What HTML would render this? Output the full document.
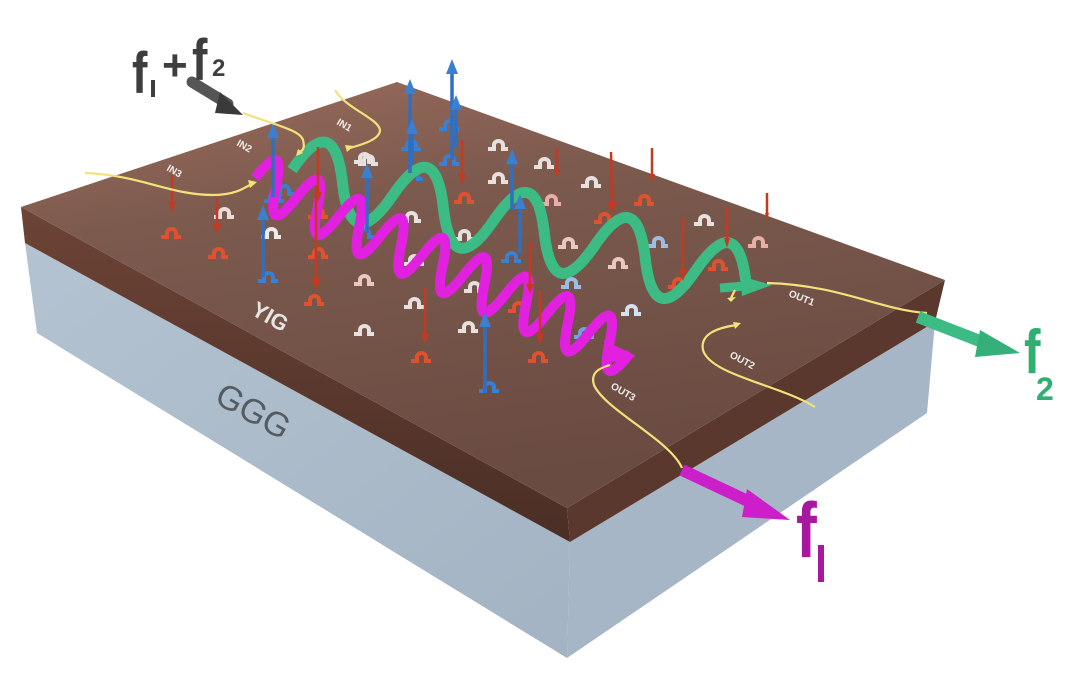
<!DOCTYPE html>
<html><head><meta charset="utf-8"><style>
html,body{margin:0;padding:0;background:#fff;width:1080px;height:685px;overflow:hidden}
svg{display:block}
text{font-family:"Liberation Sans","DejaVu Sans",sans-serif}
</style></head><body>
<svg width="1080" height="685" viewBox="0 0 1080 685" xmlns="http://www.w3.org/2000/svg">
<defs>
<linearGradient id="top" x1="0" y1="0" x2="0.3" y2="1">
<stop offset="0" stop-color="#9a6c5c"/><stop offset="0.35" stop-color="#7c5a4e"/><stop offset="1" stop-color="#6a4b41"/>
</linearGradient>
<linearGradient id="front" x1="0" y1="0" x2="0" y2="1">
<stop offset="0" stop-color="#6d4436"/><stop offset="1" stop-color="#4a2e25"/>
</linearGradient>
<linearGradient id="ggg" x1="0" y1="0" x2="1" y2="1">
<stop offset="0" stop-color="#b3c3d1"/><stop offset="1" stop-color="#a3b3c3"/>
</linearGradient>
<g id="sp"><path d="M-9,4 h6 v-4 a4.5,4 0 1 1 9,0 v4 h5" fill="none" stroke-width="4" stroke-linejoin="miter"/></g>
</defs>

<polygon points="25,243 37,333 567,658 570,542" fill="url(#ggg)"/>
<polygon points="570,542 567,658 927,413 935,322" fill="#a7b6c6"/>
<polygon points="21,207 567,508 570,542 25,243" fill="url(#front)"/>
<polygon points="567,508 945,280 935,322 570,542" fill="#5a382d"/>
<polygon points="21,207 397,82 945,280 567,508" fill="url(#top)"/>

<text x="0" y="0" font-size="34" fill="#555b62" transform="translate(213,402) rotate(29)">GGG</text>
<text x="0" y="0" font-size="22" fill="#e8e4e2" font-weight="bold" transform="translate(250,314) rotate(29)">YIG</text>
<g font-size="10" fill="#f2ecea" font-weight="bold">
<text transform="translate(336,124) rotate(30)">IN1</text>
<text transform="translate(236,145) rotate(30)">IN2</text>
<text transform="translate(166,170) rotate(30)">IN3</text>
<text transform="translate(788,296) rotate(22)">OUT1</text>
<text transform="translate(729,357) rotate(28)">OUT2</text>
<text transform="translate(610,388) rotate(30)">OUT3</text>
</g>

<g>
<use href="#sp" x="363" y="158" stroke="#e6e0de"/>
<use href="#sp" x="412" y="175" stroke="#3b7fd0"/>
<use href="#sp" x="410" y="145" stroke="#3b7fd0"/>
<use href="#sp" x="448" y="125" stroke="#3b7fd0"/>
<use href="#sp" x="448" y="160" stroke="#3b7fd0"/>
<use href="#sp" x="497" y="145" stroke="#e6e0de"/>
<use href="#sp" x="543" y="163" stroke="#e6e0de"/>
<use href="#sp" x="497" y="178" stroke="#e6e0de"/>
<use href="#sp" x="463" y="198" stroke="#e0512f"/>
<use href="#sp" x="550" y="200" stroke="#e8b0a4"/>
<use href="#sp" x="590" y="182" stroke="#e6e0de"/>
<use href="#sp" x="603" y="218" stroke="#e0512f"/>
<use href="#sp" x="643" y="200" stroke="#e0512f"/>
<use href="#sp" x="703" y="220" stroke="#e6e0de"/>
<use href="#sp" x="757" y="242" stroke="#e8b0a4"/>
<use href="#sp" x="717" y="265" stroke="#e0512f"/>
<use href="#sp" x="677" y="283" stroke="#e0512f"/>
<use href="#sp" x="657" y="242" stroke="#9fbde4"/>
<use href="#sp" x="617" y="263" stroke="#e8c8c0"/>
<use href="#sp" x="567" y="243" stroke="#e8c8c0"/>
<use href="#sp" x="570" y="283" stroke="#9fbde4"/>
<use href="#sp" x="630" y="310" stroke="#d6e0ee"/>
<use href="#sp" x="510" y="257" stroke="#3b7fd0"/>
<use href="#sp" x="463" y="235" stroke="#e6e0de"/>
<use href="#sp" x="410" y="217" stroke="#e6e0de"/>
<use href="#sp" x="363" y="233" stroke="#3b7fd0"/>
<use href="#sp" x="413" y="260" stroke="#e6e0de"/>
<use href="#sp" x="363" y="280" stroke="#e8c8c0"/>
<use href="#sp" x="413" y="303" stroke="#e6e0de"/>
<use href="#sp" x="363" y="330" stroke="#e6e0de"/>
<use href="#sp" x="420" y="357" stroke="#e0512f"/>
<use href="#sp" x="467" y="327" stroke="#e6e0de"/>
<use href="#sp" x="473" y="287" stroke="#e6e0de"/>
<use href="#sp" x="517" y="307" stroke="#e0512f"/>
<use href="#sp" x="583" y="333" stroke="#6fa3e0"/>
<use href="#sp" x="537" y="357" stroke="#e0512f"/>
<use href="#sp" x="488" y="387" stroke="#3b7fd0"/>
<use href="#sp" x="170" y="233" stroke="#e0512f"/>
<use href="#sp" x="217" y="253" stroke="#e0512f"/>
<use href="#sp" x="223" y="213" stroke="#ecdcd8"/>
<use href="#sp" x="270" y="233" stroke="#ecebea"/>
<use href="#sp" x="267" y="277" stroke="#3b7fd0"/>
<use href="#sp" x="313" y="300" stroke="#e0512f"/>
<use href="#sp" x="317" y="253" stroke="#e0512f"/>
<use href="#sp" x="317" y="213" stroke="#e0512f"/>
<use href="#sp" x="367" y="160" stroke="#e6e0de"/>
<use href="#sp" x="273" y="197" stroke="#3b7fd0"/>
<use href="#sp" x="283" y="190" stroke="#3b7fd0"/>
</g>

<g transform="translate(292,170) rotate(14)">
<path d="M0,0 q26,-70 52,0 t52,0 t52,0 t52,0 t52,0 t52,0 t52,0 t52,0 t52,0" fill="none" stroke="#3dbb85" stroke-width="11"/>
</g>
<polygon points="740,276 772,285 742,296" fill="#3dbb85"/>
<path d="M745,286 L720,288" stroke="#3dbb85" stroke-width="9"/>
<g transform="translate(255,178) rotate(25)">
<path d="M0,0 q11.5,-50 23,0 t23,0 t23,0 t23,0 t23,0 t23,0 t23,0 t23,0 t23,0 t23,0 t23,0 t23,0 t23,0 t23,0 t23,0 t23,0 t23,0 t23,0" fill="none" stroke="#e221e0" stroke-width="10"/>
</g>
<polygon points="604,340 636,356 605,364" fill="#e221e0"/>

<g stroke="#2f6fc0" stroke-width="3.5" fill="#3b7fd0">
<line x1="263" y1="277" x2="263" y2="218"/><polygon points="257,220 263,205 269,220" stroke="none"/>
<line x1="273" y1="197" x2="273" y2="136"/><polygon points="267,138 273,123 279,138" stroke="none"/>
<line x1="367" y1="233" x2="367" y2="176"/><polygon points="361,178 367,163 373,178" stroke="none"/>
<line x1="410" y1="173" x2="410" y2="92"/><polygon points="404,94 410,79 416,94" stroke="none"/>
<line x1="452" y1="160" x2="452" y2="72"/><polygon points="446,74 452,59 458,74" stroke="none"/>
<line x1="456" y1="147" x2="456" y2="108"/><polygon points="450,110 456,95 462,110" stroke="none"/>
<line x1="512" y1="210" x2="512" y2="162"/><polygon points="506,164 512,149 518,164" stroke="none"/>
<line x1="520" y1="253" x2="520" y2="207"/><polygon points="514,209 520,194 526,209" stroke="none"/>
<line x1="485" y1="393" x2="485" y2="325"/><polygon points="479,327 485,312 491,327" stroke="none"/>
<line x1="412" y1="165" x2="412" y2="132"/><polygon points="406,134 412,119 418,134" stroke="none"/>
</g>
<g stroke="#c23a22" stroke-width="2.5" fill="#c23a22">
<line x1="172" y1="175" x2="172" y2="204"/><polygon points="168,202 172,212 176,202" stroke="none"/>
<line x1="217" y1="198" x2="217" y2="226"/><polygon points="213,224 217,234 221,224" stroke="none"/>
<line x1="318" y1="147" x2="318" y2="194"/><polygon points="314,192 318,202 322,192" stroke="none"/>
<line x1="316" y1="185" x2="316" y2="280"/><polygon points="311,278 316,290 321,278" stroke="none"/>
<line x1="462" y1="140" x2="462" y2="176"/><polygon points="458,174 462,184 466,174" stroke="none"/>
<line x1="557" y1="148" x2="557" y2="171"/><polygon points="554,169 557,178 560,169" stroke="none"/>
<line x1="611" y1="152" x2="612" y2="204"/><polygon points="607,202 612,214 617,202" stroke="none"/>
<line x1="652" y1="148" x2="652" y2="176"/><polygon points="649,174 652,183 655,174" stroke="none"/>
<line x1="683" y1="217" x2="683" y2="272"/><polygon points="679,270 683,281 687,270" stroke="none"/>
<line x1="727" y1="207" x2="727" y2="240"/><polygon points="724,238 727,248 730,238" stroke="none"/>
<line x1="767" y1="193" x2="767" y2="215"/><polygon points="765,213 767,221 769,213" stroke="none"/>
<line x1="530" y1="242" x2="530" y2="286"/><polygon points="526,284 530,294 534,284" stroke="none"/>
<line x1="425" y1="287" x2="425" y2="336"/><polygon points="421,334 425,344 429,334" stroke="none"/>
<line x1="540" y1="290" x2="540" y2="336"/><polygon points="536,334 540,344 544,334" stroke="none"/>
</g>

<g fill="none" stroke="#f3e27a" stroke-width="2.2">
<path d="M85,173 C140,175 170,195 213,195 C235,195 245,188 253,183"/>
<path d="M243,113 C275,125 300,130 303,140 C305,148 303,150 300,152"/>
<path d="M335,90 C345,108 378,118 380,130 C380,140 360,145 350,148"/>
<path d="M767,283 C840,285 880,310 927,313"/>
<path d="M735,290 L731,298"/>
<path d="M737,325 C715,328 700,335 703,350 C710,375 780,385 815,407"/>
<path d="M610,365 C600,368 590,372 594,385 C605,410 670,440 682,468"/>
</g>
<g fill="#f3e27a">
<polygon points="248,180 257,182 250,188"/><polygon points="298,149 303,153 296,156"/>
<polygon points="345,145 354,146 347,152"/><polygon points="727,298 736,297 731,302"/>
<polygon points="733,322 741,323 735,329"/>
</g>

<path d="M192,82 L228,104" stroke="#555" stroke-width="11" stroke-linecap="round"/>
<polygon points="220,92 243,115 215,113" fill="#3a3a3a"/>
<path d="M918,317 L985,343" stroke="#3dbb85" stroke-width="12"/>
<polygon points="980,330 1020,353 975,357" fill="#35b07a"/>
<path d="M682,470 L752,503" stroke="#cc1fc9" stroke-width="12"/>
<polygon points="747,489 790,520 742,517" fill="#cc1fc9"/>

<g fill="#3e3e3e" font-weight="bold">
<text x="0" y="0" font-size="58" transform="translate(132,93) scale(0.8,1)">f</text>
<rect x="151" y="80" width="4" height="17"/>
<text x="162" y="80" font-size="44">+</text>
<text x="0" y="0" font-size="58" transform="translate(192,80) scale(0.8,1)">f</text>
<text x="212" y="76" font-size="24">2</text>
</g>
<g fill="#2eb070" font-weight="bold">
<text x="0" y="0" font-size="62" transform="translate(1024,373) scale(0.8,1)">f</text>
<text x="1036" y="400" font-size="32">2</text>
</g>
<g fill="#a8189e" font-weight="bold">
<text x="0" y="0" font-size="78" transform="translate(796,557) scale(0.8,1)">f</text>
<rect x="818" y="545" width="6" height="37"/>
</g>
</svg>
</body></html>
